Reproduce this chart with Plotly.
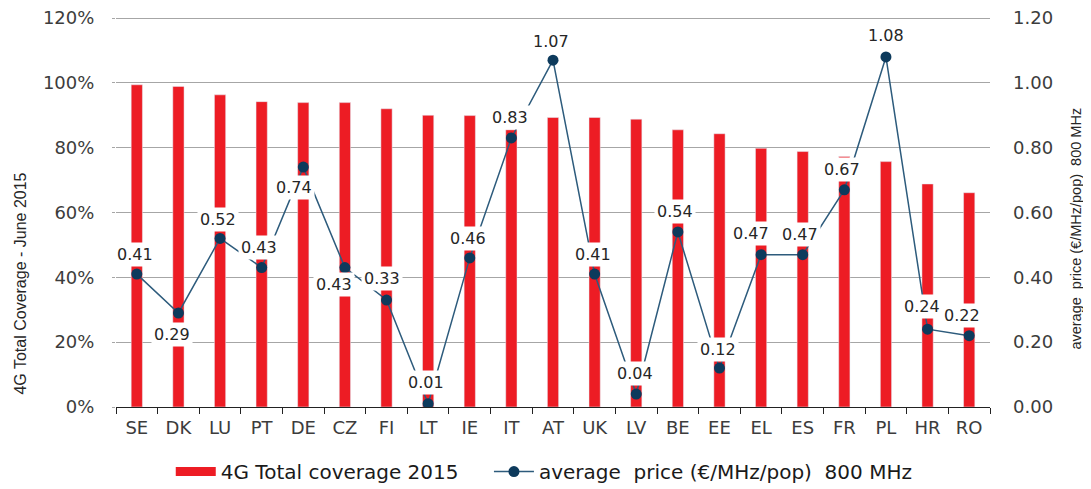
import plotly.graph_objects as go

countries = ["SE", "DK", "LU", "PT", "DE", "CZ", "FI", "LT", "IE", "IT", "AT",
             "UK", "LV", "BE", "EE", "EL", "ES", "FR", "PL", "HR", "RO"]
coverage_2015 = [0.994, 0.989, 0.963, 0.942, 0.939, 0.939, 0.920, 0.900, 0.899, 0.855, 0.893,
                 0.893, 0.888, 0.855, 0.843, 0.798, 0.788, 0.773, 0.757, 0.688, 0.661]
price_800 = [0.41, 0.29, 0.52, 0.43, 0.74, 0.43, 0.33, 0.01, 0.46, 0.83, 1.07,
             0.41, 0.04, 0.54, 0.12, 0.47, 0.47, 0.67, 1.08, 0.24, 0.22]
left_ticks = [0, 0.2, 0.4, 0.6, 0.8, 1.0, 1.2]

# label offsets (pixels): (xshift, yshift) relative to each point
label_offsets = [(-2, 20), (-6, -22), (-2, 19), (-3, 20), (-9, -20), (-11, -17), (-5, 22),
                 (-2, 21), (-2, 19), (-1, 20), (-2, 19), (-2, 20), (-1, 21), (-3, 20),
                 (-1, 19), (-10, 21), (-3, 20), (-2, 20), (0, 21), (-6, 23), (-7, 20)]

RED = "#ED1C24"
NAVY = "#0D3A5C"
LINE = "#2D5B7C"
GRID = "#A6A6A6"
TXT = "#3C3C3C"
FONT = "DejaVu Sans, Arial, sans-serif"
TITLEFONT = "Liberation Sans, Arial, sans-serif"

fig = go.Figure()
fig.add_trace(go.Bar(x=countries, y=coverage_2015, marker_color=RED, width=0.27,
                     name="4G Total coverage 2015", showlegend=False, yaxis="y"))
# legend proxy for the bar series (wide red rectangle)
fig.add_trace(go.Scatter(x=[countries[0]], y=[None], mode="lines", line=dict(color=RED, width=9),
                         name="4G Total coverage 2015\u00a0\u00a0\u00a0\u00a0", yaxis="y"))
fig.add_trace(go.Scatter(x=countries, y=price_800, mode="lines+markers", yaxis="y2",
                         line=dict(color=LINE, width=1.5),
                         marker=dict(color=NAVY, size=11),
                         name="average\u00a0\u00a0price (€/MHz/pop)\u00a0\u00a0800 MHz"))

annotations = []
for c, v, (dx, dy) in zip(countries, price_800, label_offsets):
    annotations.append(dict(x=c, y=v, xref="x", yref="y2", text=f"{v:.2f}",
                            showarrow=False, xshift=dx, yshift=dy,
                            bgcolor="white", borderpad=2,
                            font=dict(family=FONT, size=16, color="#262626")))
annotations.append(dict(x=-0.109, y=0.315, xref="paper", yref="paper",
                        xanchor="center", yanchor="middle",
                        text="4G Total Coverage - June 2015", textangle=-90, showarrow=False,
                        font=dict(family=TITLEFONT, size=16, color="#262626")))
annotations.append(dict(x=1.099, y=0.455, xref="paper", yref="paper",
                        xanchor="center", yanchor="middle",
                        text="average\u00a0\u00a0price (€/MHz/pop)\u00a0\u00a0800 MHz",
                        textangle=-90, showarrow=False,
                        font=dict(family=TITLEFONT, size=14.5, color="#262626")))

fig.update_layout(
    width=1083, height=481,
    margin=dict(l=108, r=101, t=8, b=82, autoexpand=False),
    paper_bgcolor="white", plot_bgcolor="white",
    bargap=0.7,
    xaxis=dict(showline=True, linecolor="#222222", linewidth=1.2, automargin=False,
               range=[-0.5, len(countries) - 0.5],
               ticks="outside", tickson="boundaries", ticklen=6, tickcolor="#222222",
               tickfont=dict(family=FONT, size=18, color=TXT), showgrid=False,
               ticklabelstandoff=4),
    yaxis=dict(range=[0, 1.2062], tickvals=left_ticks, tickformat=".0%", automargin=False,
               showgrid=True, gridcolor=GRID, gridwidth=1, zeroline=False,
               ticks="outside", ticklen=3, tickcolor=GRID, ticklabelstandoff=14,
               ticklabeloverflow="allow",
               tickfont=dict(family=FONT, size=18, color=TXT)),
    yaxis2=dict(range=[0, 1.2062], tickvals=left_ticks, tickformat=".2f", overlaying="y",
                side="right", showgrid=False, zeroline=False, ticks="", automargin=False,
                ticklabelstandoff=22, ticklabeloverflow="allow",
                tickfont=dict(family=FONT, size=18, color=TXT)),
    legend=dict(orientation="h", x=0.49, xanchor="center", y=-0.165, yanchor="middle",
                font=dict(family=FONT, size=20, color="#1A1A1A"), itemwidth=40,
                bgcolor="rgba(0,0,0,0)"),
    annotations=annotations,
)

fig.write_html("out.html")
